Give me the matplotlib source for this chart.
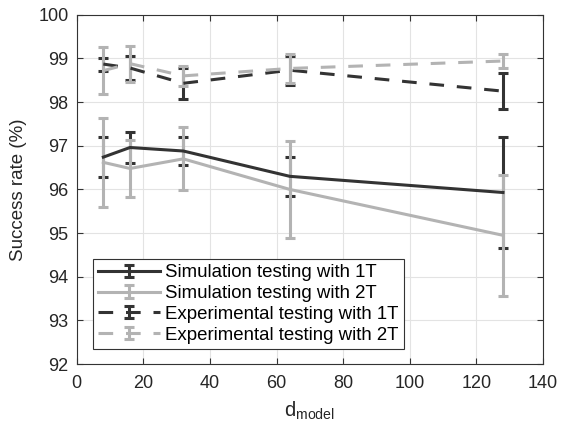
import numpy as np
import matplotlib.pyplot as plt
from matplotlib.container import ErrorbarContainer
from matplotlib.legend_handler import HandlerErrorbar

plt.rcParams['font.family'] = ['Liberation Sans', 'DejaVu Sans']
plt.rcParams['mathtext.default'] = 'regular'

# model dimension
d_model = [8, 16, 32, 64, 128]

# simulation testing
sim_1t = [96.74, 96.96, 96.88, 96.30, 95.93]
sim_1t_err = [0.45, 0.36, 0.31, 0.44, 1.27]
sim_2t = [96.62, 96.48, 96.70, 96.00, 94.95]
sim_2t_err = [1.02, 0.66, 0.72, 1.12, 1.38]

# experimental testing
exp_1t = [98.87, 98.78, 98.43, 98.73, 98.25]
exp_1t_err = [0.15, 0.28, 0.35, 0.33, 0.41]
exp_2t = [98.72, 98.88, 98.60, 98.77, 98.94]
exp_2t_err = [0.54, 0.41, 0.23, 0.33, 0.17]

labels = ['Simulation testing with 1T', 'Simulation testing with 2T',
          'Experimental testing with 1T', 'Experimental testing with 2T']

dark = '#333333'
light = '#b3b3b3'

fig = plt.figure(figsize=(5.62, 4.33), dpi=100)
ax = fig.add_axes([0.1365, 0.159, 0.8295, 0.807])

series = [(sim_1t, sim_1t_err, dark, '-'),
          (sim_2t, sim_2t_err, light, '-'),
          (exp_1t, exp_1t_err, dark, (0, (4.8, 4.2))),
          (exp_2t, exp_2t_err, light, (0, (4.8, 4.2)))]

for (vals, errs, col, ls), lab in zip(series, labels):
    ax.errorbar(d_model, vals, yerr=errs, color=col, ls=ls, lw=2.2,
                elinewidth=2.2, capsize=3.5, capthick=2.2, label=lab)

ax.set_xlim(0, 140)
ax.set_ylim(92, 100)
ax.set_xticks(np.arange(0, 141, 20))
ax.set_yticks(np.arange(92, 101, 1))
ax.grid(True, color='#e3e3e3', linewidth=0.8)
ax.set_axisbelow(True)
ax.tick_params(direction='in', top=True, right=True, labelsize=13,
               length=4, color='#333333', labelcolor='#262626')
ax.tick_params(axis='x', pad=8)
ax.tick_params(axis='y', pad=6)
for sp in ax.spines.values():
    sp.set_color('#333333')
    sp.set_linewidth(0.8)

ax.set_xlabel(r'd$_{model}$', fontsize=14.5, color='#262626', labelpad=5)
ax.set_ylabel('Success rate (%)', fontsize=13.5, color='#262626', labelpad=8)

leg = ax.legend(loc='lower left', bbox_to_anchor=(0.034, 0.043), fontsize=13.4,
                fancybox=False, edgecolor='#333333', framealpha=1,
                handlelength=3.3, borderpad=0.3, labelspacing=0.2,
                handletextpad=0.3, borderaxespad=0,
                handler_map={ErrorbarContainer: HandlerErrorbar(yerr_size=0.33)})
leg.get_frame().set_linewidth(0.8)

fig.savefig('out.png', dpi=100)
